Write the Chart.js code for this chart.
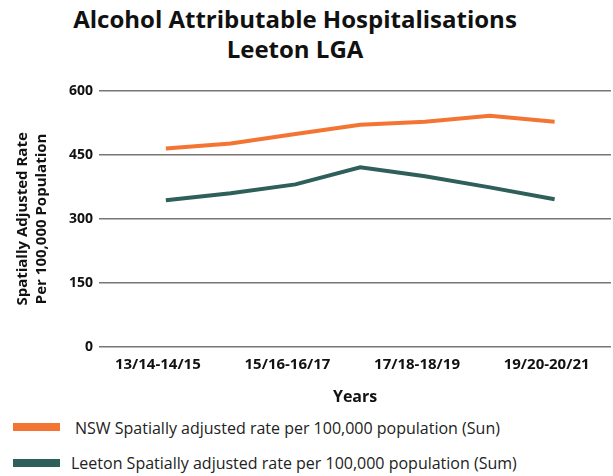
<!DOCTYPE html>
<html>
<head>
<meta charset="utf-8">
<script src="https://cdn.jsdelivr.net/npm/chart.js@4"></script>
<style>
  body { margin: 0; background: #fff; font-family: "Open Sans", sans-serif; }
  #wrap { position: relative; width: 613px; height: 476px; overflow: hidden; }
  #title {
    position: absolute; left: 0; top: 4px; width: 590px;
    text-align: center; font-weight: bold; font-size: 24px; line-height: 30px; color: #111;
  }
  #chart-box { position: absolute; left: 0; top: 0; width: 613px; height: 412px; }
  .legend { position: absolute; left: 0; font-size: 16px; color: #222; }
  .legend .swatch { position: absolute; left: 13px; width: 47px; height: 8px; }
</style>
</head>
<body>
<div id="wrap">
  <div id="title">Alcohol Attributable Hospitalisations<br>Leeton LGA</div>
  <div id="chart-box"><canvas id="rateChart" width="613" height="412"></canvas></div>
  <div class="legend" style="top:420px">
    <span class="swatch" style="top:3px;background:#f47533"></span>
    <span style="position:absolute;left:75px;top:-3px;white-space:nowrap">NSW Spatially adjusted rate per 100,000 population (Sun)</span>
  </div>
  <div class="legend" style="top:456px">
    <span class="swatch" style="top:3px;background:#2f5f5a"></span>
    <span style="position:absolute;left:71px;top:-4px;white-space:nowrap">Leeton Spatially adjusted rate per 100,000 population (Sum)</span>
  </div>
</div>

<script>
// Data
const periods = [
  "13/14-14/15",
  "14/15-15/16",
  "15/16-16/17",
  "16/17-17/18",
  "17/18-18/19",
  "18/19-19/20",
  "19/20-20/21",
];
const nswRate = [465, 477, 499, 521, 528, 542, 528];
const leetonRate = [344, 360, 381, 421, 400, 374, 346];
const yTicks = [0, 150, 300, 450, 600];

const toPoints = (values) => values.map((v, i) => ({ x: i, y: v }));

const ctx = document.getElementById("rateChart").getContext("2d");
new Chart(ctx, {
  type: "line",
  data: {
    datasets: [
      {
        label: "NSW Spatially adjusted rate per 100,000 population (Sun)",
        data: toPoints(nswRate),
        borderColor: "#f47533",
        borderWidth: 4,
        pointRadius: 0,
        tension: 0,
      },
      {
        label: "Leeton Spatially adjusted rate per 100,000 population (Sum)",
        data: toPoints(leetonRate),
        borderColor: "#2f5f5a",
        borderWidth: 4,
        pointRadius: 0,
        tension: 0,
      },
    ],
  },
  options: {
    responsive: false,
    animation: false,
    layout: { padding: { top: 91, left: 10, right: 2, bottom: 0 } },
    plugins: {
      legend: { display: false },
      tooltip: { enabled: false },
    },
    scales: {
      x: {
        type: "linear",
        min: -1.03,
        max: 6.87,
        border: { display: false },
        grid: { display: false, drawTicks: false },
        ticks: {
          stepSize: 1,
          autoSkip: false,
          includeBounds: false,
          maxRotation: 0,
          padding: 9,
          labelOffset: -8,
          color: "#111",
          font: { family: "Open Sans", size: 15, weight: "bold" },
          callback: function (value) {
            return value % 2 === 0 ? periods[value] : "";
          },
        },
        title: {
          display: true,
          text: "Years",
          color: "#111",
          padding: { top: 5, bottom: 5 },
          font: { family: "Open Sans", size: 16, weight: "bold" },
        },
      },
      y: {
        min: yTicks[0],
        max: yTicks[yTicks.length - 1],
        border: { display: false },
        grid: { color: "#7b7573", lineWidth: 1.5, drawTicks: false },
        afterBuildTicks: function (axis) {
          axis.ticks = yTicks.map((v) => ({ value: v }));
        },
        ticks: {
          padding: 6,
          color: "#111",
          font: { family: "Open Sans", size: 14, weight: "bold" },
        },
        title: {
          display: true,
          text: ["Spatially Adjusted Rate", "Per 100,000 Population"],
          color: "#111",
          padding: { top: 3, bottom: 12 },
          font: { family: "Open Sans", size: 15, weight: "bold", lineHeight: 1.27 },
        },
      },
    },
  },
});
</script>
</body>
</html>
